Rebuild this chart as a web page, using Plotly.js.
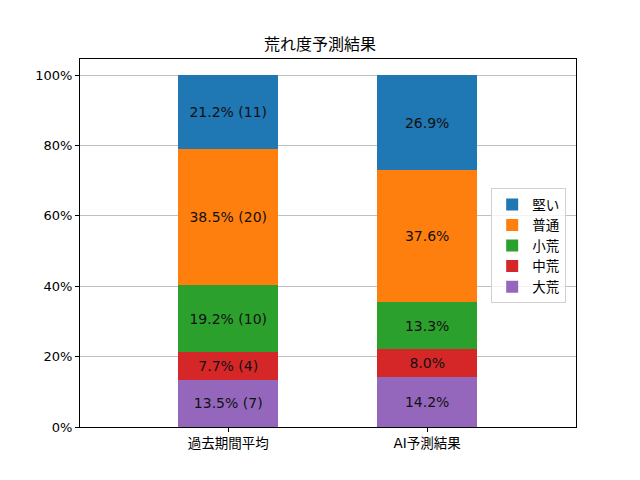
<!DOCTYPE html>
<html>
<head>
<meta charset="utf-8">
<script src="https://cdn.plot.ly/plotly-3.0.1.min.js"></script>
<style>
  body { margin: 0; background: #fff; }
  #chart { width: 640px; height: 480px; }
</style>
</head>
<body>
<div id="chart"></div>
<script>
// stacked from the bottom up
let categories = ["過去期間平均", "AI予測結果"];
let levels = ["大荒", "中荒", "小荒", "普通", "堅い"];
let colors = ["#9467bd", "#d62728", "#2ca02c", "#ff7f0e", "#1f77b4"];
let pastPct = [13.5, 7.7, 19.2, 38.5, 21.2];
let pastCount = [7, 4, 10, 20, 11];
let aiPct = [14.2, 8.0, 13.3, 37.6, 26.9];
let yTicks = [0, 20, 40, 60, 80, 100];

let font = "DejaVu Sans, Noto Sans CJK JP, sans-serif";

let traces = levels.map(function(name, i){
    return {
        type: "bar",
        name: name,
        x: [0, 1],
        y: [pastPct[i], aiPct[i]],
        width: 0.5,
        text: [pastPct[i].toFixed(1) + "% (" + pastCount[i] + ")", aiPct[i].toFixed(1) + "%"],
        textposition: "inside",
        insidetextanchor: "middle",
        textangle: 0,
        textfont: {family: font, size: 14, color: "#111"},
        marker: {color: colors[i], line: {width: 0}},
        hoverinfo: "none"
    };
});

let layout = {
    width: 640,
    height: 480,
    barmode: "stack",
    bargap: 0,
    paper_bgcolor: "#fff",
    plot_bgcolor: "#fff",
    margin: {l: 80, r: 64, t: 59, b: 53, pad: 0},
    font: {family: font, size: 13, color: "#000"},
    title: {
        text: "荒れ度予測結果",
        font: {family: font, size: 16, color: "#000"},
        x: 0.5,
        xanchor: "center",
        y: 1 - 44 / 480,
        yanchor: "middle"
    },
    xaxis: {
        range: [-0.745, 1.748],
        tickvals: [0, 1],
        ticktext: categories,
        tickfont: {family: font, size: 13.5},
        ticks: "outside",
        ticklen: 4,
        tickcolor: "#000",
        showgrid: false,
        zeroline: false,
        showline: true,
        mirror: true,
        linecolor: "#000",
        linewidth: 1,
        fixedrange: true
    },
    yaxis: {
        range: [0, 104.6],
        tickvals: yTicks,
        ticktext: yTicks.map(function(v){ return v + "%"; }),
        ticks: "outside",
        ticklen: 4,
        tickcolor: "#000",
        showgrid: true,
        gridcolor: "#b0b0b0",
        gridwidth: 0.8,
        zeroline: false,
        showline: true,
        mirror: true,
        linecolor: "#000",
        linewidth: 1,
        fixedrange: true
    },
    legend: {
        x: 0.829,
        y: 0.649,
        xanchor: "left",
        yanchor: "top",
        traceorder: "reversed",
        bgcolor: "rgba(255,255,255,0.8)",
        bordercolor: "#d0d0d0",
        borderwidth: 1,
        font: {family: font, size: 13.5, color: "#000"},
        itemwidth: 30
    },
    showlegend: true
};

Plotly.newPlot("chart", traces, layout, {displayModeBar: false, staticPlot: true});
</script>
</body>
</html>
